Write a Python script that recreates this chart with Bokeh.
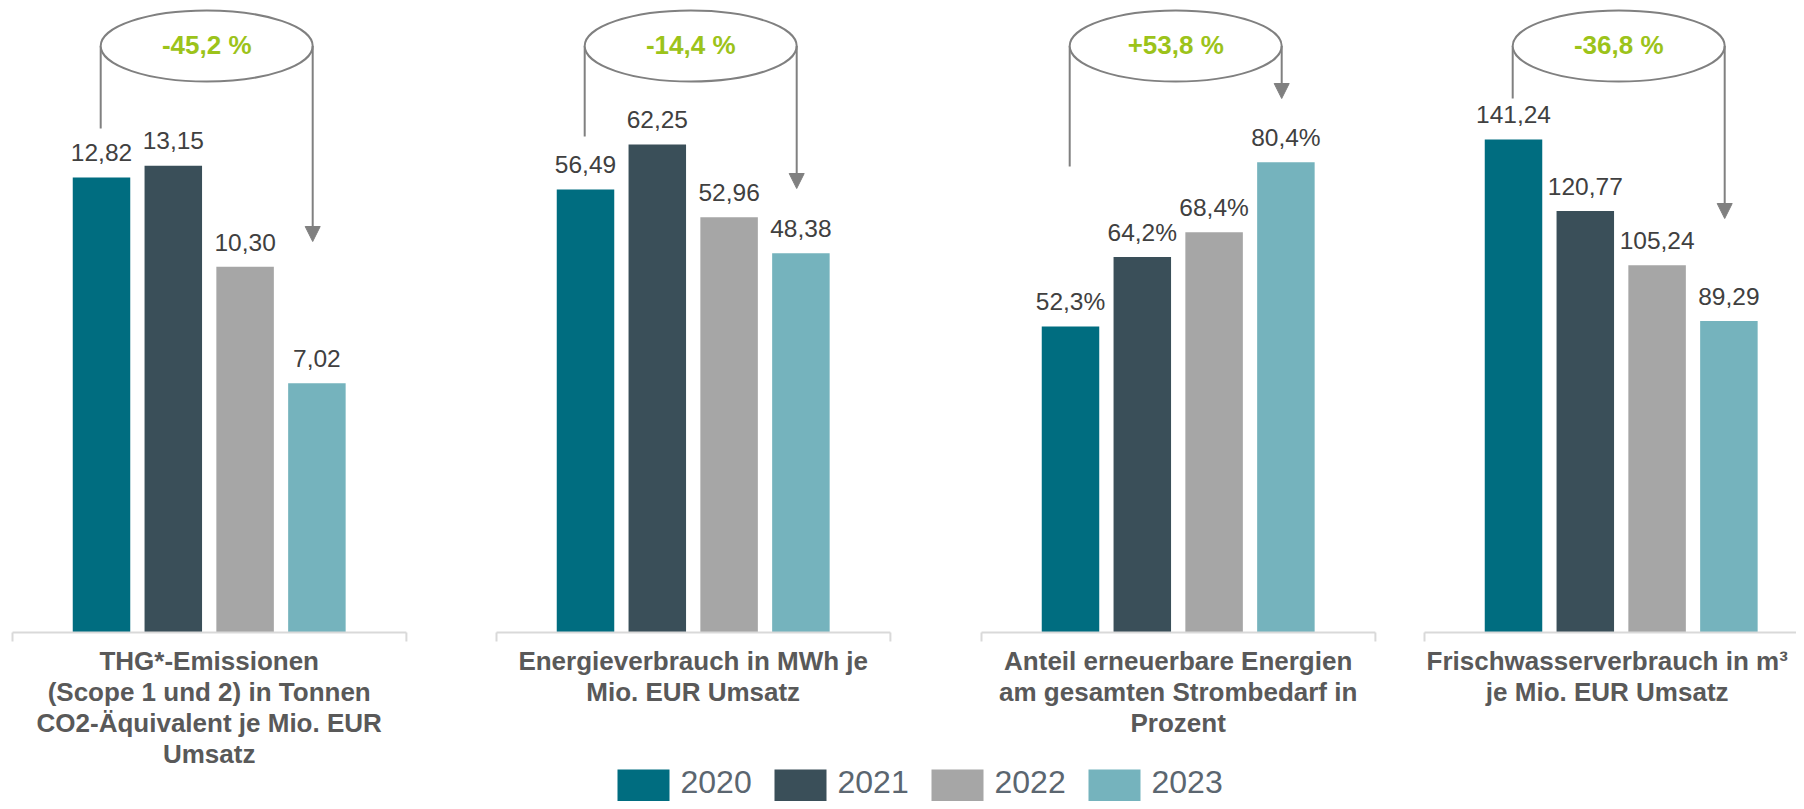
from bokeh.plotting import figure
from bokeh.models import Range1d, Arrow, NormalHead, ColumnDataSource
from bokeh.core.properties import value
from bokeh.embed import file_html
from bokeh.resources import INLINE

# ---------------- data ----------------
years = ["2020", "2021", "2022", "2023"]
thg_emissionen = [12.82, 13.15, 10.30, 7.02]
energieverbrauch = [56.49, 62.25, 52.96, 48.38]
anteil_erneuerbar = [52.3, 64.2, 68.4, 80.4]
frischwasser = [141.24, 120.77, 105.24, 89.29]
veraenderung = ["-45,2 %", "-14,4 %", "+53,8 %", "-36,8 %"]
kategorien = [
    "THG*-Emissionen\n(Scope 1 und 2) in Tonnen\nCO2-Äquivalent je Mio. EUR\nUmsatz",
    "Energieverbrauch in MWh je\nMio. EUR Umsatz",
    "Anteil erneuerbare Energien\nam gesamten Strombedarf in\nProzent",
    "Frischwasserverbrauch in m³\nje Mio. EUR Umsatz",
]
label_formats = ["{:.2f}", "{:.2f}", "{:.1f}%", "{:.2f}"]

series = [thg_emissionen, energieverbrauch, anteil_erneuerbar, frischwasser]

# ---------------- styles / layout ----------------
colors = ["#006d80", "#3a4f59", "#a6a6a6", "#75b3bd"]
FONT = value("Liberation Sans")
W, H = 1796, 801                 # canvas size
BASE_Y = 632
PANEL_X0 = [101, 585, 1070, 1513]
STEP = 71.8
BAR_W = 57.5
PX_PER_UNIT = [35.5, 7.84, 5.85, 3.49]
ELL_Y, ELL_H, ELL_W = 45.5, 71, 212
LEFT_END = [128, 136, 166, 98]
ARROW_TIP = [241, 188, 98, 218]
CAT_DX = [0, 0, 0, -14]
GRAY = "#808080"


def bias(fs):
    # shift so that the given y is the visual baseline of the glyphs
    return 0.4 * fs


p = figure(width=W, height=H,
           x_range=Range1d(0, W), y_range=Range1d(H, 0),
           output_backend="svg", toolbar_location=None, min_border=0,
           x_axis_type=None, y_axis_type=None)
p.grid.visible = False
p.outline_line_color = None
p.background_fill_color = "white"

p.extra_y_ranges = {
    f"p{i}": Range1d(-(H - BASE_Y) / s, BASE_Y / s)
    for i, s in enumerate(PX_PER_UNIT)
}

VAL_FS = 24.5
CAT_FS = 26
PCT_FS = 26
LEG_FS = 32

for i, vals in enumerate(series):
    rn = f"p{i}"
    xs = [PANEL_X0[i] + j * STEP for j in range(len(years))]
    center = (xs[0] + xs[-1]) / 2
    src = ColumnDataSource(dict(
        x=xs, top=vals, color=colors,
        label=[label_formats[i].format(v).replace(".", ",") for v in vals],
    ))
    p.vbar(x="x", top="top", bottom=0, width=BAR_W, fill_color="color",
           line_color=None, source=src, y_range_name=rn)
    p.text(x="x", y="top", text="label", source=src, y_range_name=rn,
           y_offset=-(15 + bias(VAL_FS)), text_align="center", text_baseline="alphabetic",
           text_font=FONT, text_font_size=f"{VAL_FS}px", text_color="#404040")

    # axis line with end ticks
    x_l, x_r = xs[0] - 89, xs[-1] + 89.5
    p.segment(x0=[x_l, x_l, x_r], y0=[BASE_Y, BASE_Y, BASE_Y],
              x1=[x_r, x_l, x_r], y1=[BASE_Y, BASE_Y + 9, BASE_Y + 9],
              line_color="#d9d9d9", line_width=2)

    # change bubble
    ecx = center - 2.5
    left_x, right_x = ecx - ELL_W / 2, ecx + ELL_W / 2
    p.segment(x0=[left_x], y0=[ELL_Y], x1=[left_x], y1=[LEFT_END[i]],
              line_color=GRAY, line_width=2)
    p.add_layout(Arrow(end=NormalHead(size=15, fill_color=GRAY, line_color=GRAY),
                       x_start=right_x, y_start=ELL_Y, x_end=right_x, y_end=ARROW_TIP[i],
                       line_color=GRAY, line_width=2))
    p.ellipse(x=[ecx], y=[ELL_Y], width=ELL_W, height=ELL_H,
              width_units="screen", height_units="screen",
              fill_color="white", line_color=GRAY, line_width=2)
    p.text(x=[ecx], y=[55 - bias(PCT_FS)], text=[veraenderung[i]], text_align="center",
           text_baseline="alphabetic", text_font=FONT, text_font_size=f"{PCT_FS}px",
           text_font_style="bold", text_color="#9cc31a")

    # category label
    lines = kategorien[i].split("\n")
    p.text(x=[center + CAT_DX[i]] * len(lines),
           y=[671 - bias(CAT_FS) + 31 * k for k in range(len(lines))],
           text=lines, text_align="center", text_baseline="alphabetic",
           text_font=FONT, text_font_size=f"{CAT_FS}px", text_font_style="bold",
           text_color="#595959")

# legend
LEG_X0, LEG_STEP = 617, 157
lx = [LEG_X0 + k * LEG_STEP for k in range(len(years))]
p.quad(left=lx, right=[x + 52 for x in lx], top=769, bottom=H + 10,
       fill_color=colors, line_color=None)
p.text(x=[x + 63 for x in lx], y=[794 - bias(LEG_FS)] * len(years), text=years,
       text_align="left", text_baseline="alphabetic", text_font=FONT,
       text_font_size=f"{LEG_FS}px", text_color="#5b6670")

open("out.html", "w").write(file_html(p, INLINE))
